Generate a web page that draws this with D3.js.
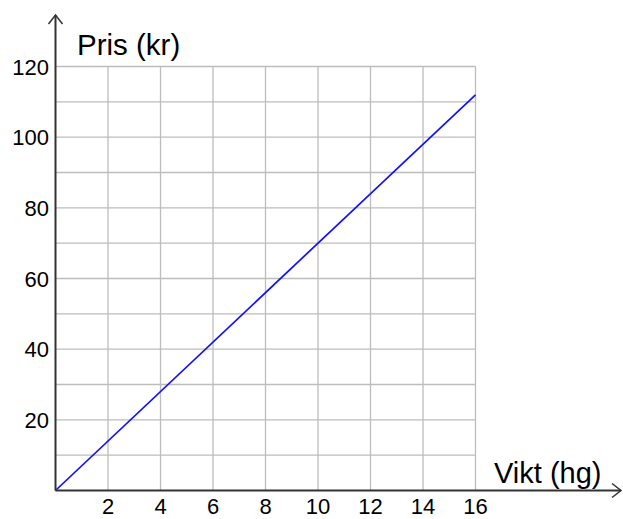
<!DOCTYPE html>
<html><head><meta charset="utf-8">
<script src="https://cdn.jsdelivr.net/npm/d3@7"></script>
<style>body{margin:0;background:#fff}svg{display:block}text{font-family:"Liberation Sans",Arial,sans-serif}</style>
</head><body>
<svg id="c" width="623" height="519"></svg>
<script>
const weights = [0, 16];
const prices = [0, 112];
const xTicks = [2,4,6,8,10,12,14,16];
const yTicks = [20,40,60,80,100,120];
const xGrid = [2,4,6,8,10,12,14,16];
const yGrid = [10,20,30,40,50,60,70,80,90,100,110,120];
const xLabel = "Vikt (hg)";
const yLabel = "Pris (kr)";

const svg = d3.select("#c");
const x = d3.scaleLinear().domain([0,16]).range([55.5,475.5]);
const y = d3.scaleLinear().domain([0,120]).range([490.5,66.5]);

const g = svg.append("g");
g.selectAll(".vg").data(xGrid).join("line")
  .attr("x1",d=>x(d)).attr("x2",d=>x(d)).attr("y1",y(0)).attr("y2",y(120))
  .attr("stroke","#bdbdbd").attr("stroke-width",1.3);
g.selectAll(".hg").data(yGrid).join("line")
  .attr("x1",x(0)).attr("x2",x(16)).attr("y1",d=>y(d)).attr("y2",d=>y(d))
  .attr("stroke","#bdbdbd").attr("stroke-width",1.3);

// data line
const line = d3.line().x((d,i)=>x(weights[i])).y(d=>y(d));
svg.append("path").datum(prices).attr("d",line)
  .attr("fill","none").attr("stroke","#1010ff").attr("stroke-width",1.7);

// axes
const ax = svg.append("g").attr("stroke","#333").attr("stroke-width",2).attr("fill","none");
ax.append("line").attr("x1",x(0)).attr("x2",621).attr("y1",y(0)).attr("y2",y(0));
ax.append("line").attr("x1",x(0)).attr("x2",x(0)).attr("y1",y(0)).attr("y2",15);
ax.append("path").attr("stroke-width",1.5).attr("d",`M${x(0)-7},${24} L${x(0)},${15} L${x(0)+7},${24}`);
ax.append("path").attr("stroke-width",1.5).attr("d",`M612,${y(0)-7} L621,${y(0)} L612,${y(0)+7}`);

// tick labels
svg.selectAll(".xt").data(xTicks).join("text")
  .attr("x",d=>x(d)).attr("y",514).attr("text-anchor","middle")
  .attr("font-size",22).attr("fill","#000").text(d=>d);
svg.selectAll(".yt").data(yTicks).join("text")
  .attr("x",49).attr("y",d=>y(d)+8).attr("text-anchor","end")
  .attr("font-size",22).attr("fill","#000").text(d=>d);

svg.append("text").attr("x",77).attr("y",55).attr("font-size",29.5).attr("fill","#000").text(yLabel);
svg.append("text").attr("x",494).attr("y",483).attr("font-size",29).attr("fill","#000").text(xLabel);
</script>
</body></html>
